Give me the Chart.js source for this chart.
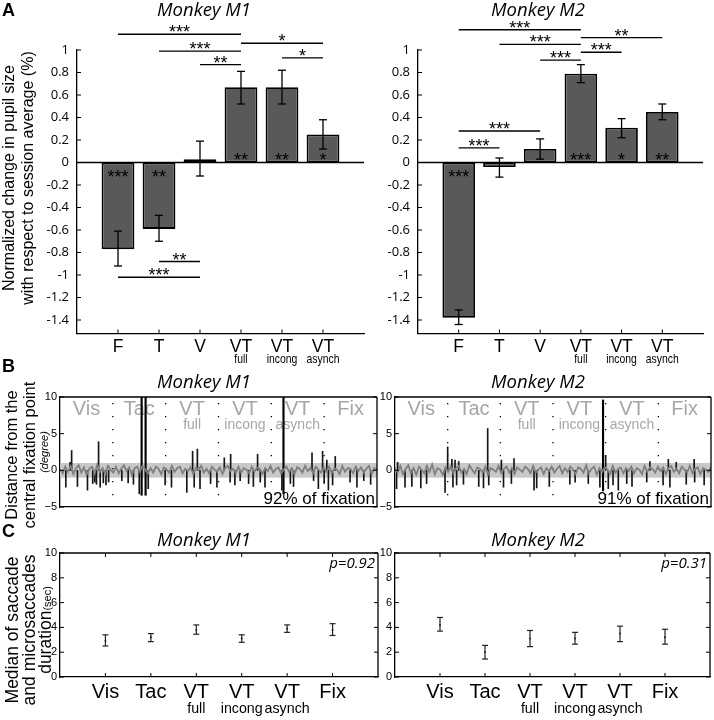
<!DOCTYPE html>
<html>
<head>
<meta charset="utf-8">
<title>Pupil size, gaze and saccade duration</title>
<script src="https://cdn.jsdelivr.net/npm/chart.js@4.4.1/dist/chart.umd.min.js"></script>
<style>
  html, body { margin: 0; padding: 0; background: #fff; }
  #page { position: relative; width: 714px; height: 720px; overflow: hidden; }
  #page canvas { position: absolute; left: 0; top: 0; }
</style>
</head>
<body>
<div id="page">
  <canvas id="pupilM1" width="714" height="720"></canvas>
  <canvas id="pupilM2" width="714" height="720"></canvas>
  <canvas id="gazeM1" width="714" height="720"></canvas>
  <canvas id="gazeM2" width="714" height="720"></canvas>
  <canvas id="durM1" width="714" height="720"></canvas>
  <canvas id="durM2" width="714" height="720"></canvas>
</div>
<script>
// ---------- panel A : pupil size ----------
const condA = ['F', 'T', 'V', 'VT', 'VT', 'VT'];
const subA = ['', '', '', 'full', 'incong', 'asynch'];
const tickA = [-1.4, -1.2, -1, -0.8, -0.6, -0.4, -0.2, 0, 0.2, 0.4, 0.6, 0.8, 1];
const tickALabels = ['-1.4', '-1.2', '-1', '-0.8', '-0.6', '-0.4', '-0.2', '0', '0.2', '0.4', '0.6', '0.8', '1'];

const pupilM1 = [-0.77, -0.59, 0.03, 0.67, 0.67, 0.25];
const pupilM1Hi = [-0.61, -0.47, 0.19, 0.81, 0.82, 0.38];
const pupilM1Lo = [-0.92, -0.70, -0.12, 0.52, 0.52, 0.12];
const starsM1 = ['***', '**', '', '**', '**', '*'];
const sigM1From = [0, 1, 2, 3, 4, 1, 0];
const sigM1To = [3, 3, 3, 5, 5, 2, 2];
const sigM1Y = [1.14, 0.99, 0.87, 1.06, 0.93, -0.88, -1.02];
const sigM1Txt = ['***', '***', '**', '*', '*', '**', '***'];

const pupilM2 = [-1.38, -0.04, 0.12, 0.79, 0.31, 0.45];
const pupilM2Hi = [-1.31, 0.04, 0.21, 0.87, 0.39, 0.52];
const pupilM2Lo = [-1.44, -0.13, 0.03, 0.71, 0.22, 0.38];
const starsM2 = ['***', '', '', '***', '*', '**'];
const sigM2From = [0, 1, 2, 3, 3, 0, 0];
const sigM2To = [3, 3, 3, 5, 4, 2, 1];
const sigM2Y = [1.18, 1.05, 0.91, 1.11, 0.98, 0.28, 0.13];
const sigM2Txt = ['***', '***', '***', '**', '***', '***', '***'];

// ---------- panel B : distance from fixation point ----------
const segB = ['Vis', 'Tac', 'VT', 'VT', 'VT', 'Fix'];
const segBSub = ['', '', 'full', 'incong', 'asynch', ''];
const tickB = [-5, 0, 5, 10];
const tickBLabels = ['\u22125', '0', '5', '10'];

const traceM1 = [0.2, -0.4, 0.5, -0.2, 0.6, -0.5, 0.3, 0.7, -0.3, 0.4,
  -0.6, 0.2, 0.5, -0.4, 0.8, -0.2, 0.3, -0.5, 0.6, 0.1,
  -0.3, 0.5, -0.4, 0.2, 0.7, -0.1, 0.4, -0.6, 0.3, 0.5,
  -0.2, 0.6, 0.1, -0.4, 0.3, -0.3, 0.5, 0.2, -0.5, 0.4,
  0.1, -0.3, 0.6, -0.2, 0.3, 0.5, -0.4, 0.2, -0.1, 0.4,
  -0.5, 0.3, 0.1, 0.6, -0.3, 0.2, -0.4, 0.5, 0.1, -0.2,
  0.4, -0.5, 0.3, 0.6, -0.1, 0.2, -0.4, 0.5, -0.3, 0.3,
  0.1, -0.4, 0.5, -0.2, 0.4, 0.2, -0.5, 0.3, -0.1, 0.6,
  -0.3, 0.2, 0.4, -0.4, 0.1, 0.5, -0.2, 0.3, -0.5, 0.4,
  0.2, -0.3, 0.6, -0.1, 0.3, -0.4, 0.5, 0.1, -0.3, 0.4,
  -0.2, 0.5, -0.4, 0.3, 0.1, -0.5, 0.6, -0.2, 0.3, 0.2,
  -0.4, 0.5, -0.1, 0.4, -0.3, 0.2, 0.6, -0.5, 0.3, 0.1];
const spikeM1X = [0.11, 0.19, 0.22, 0.33, 0.52, 0.62, 0.66, 0.69, 0.73, 0.76, 0.82, 0.87, 0.92,
  1.17, 1.29, 1.39, 1.50, 1.67, 1.99, 2.11, 2.40, 2.51, 2.54, 2.60, 2.65, 2.85, 2.97,
  3.11, 3.22, 3.23, 3.31, 3.41, 3.57, 3.66, 3.74, 3.79, 3.88, 4.20, 4.36, 4.42,
  4.77, 4.80, 4.89, 4.97, 5.00, 5.05, 5.08, 5.16, 5.21, 5.49, 5.62, 5.75, 5.88];
const spikeM1Y = [-2.3, 1.1, 2.7, -2.2, -2.7, -1.8, -1.6, -1.9, 3.9, -2.3, -1.7, -2.0, -1.6,
  -1.4, -1.7, -1.9, -3.2, -2.5, -2.0, -2.3, -3.0, 2.6, -2.3, 2.9, -2.5, -1.8, -2.3,
  1.7, -1.6, 2.2, -2.0, -1.4, -1.8, -2.2, 2.2, -1.6, -2.3, -2.7, -1.8, -2.2,
  2.4, -1.4, -2.5, 2.6, -1.8, 1.4, -2.7, -2.0, 1.9, -1.6, -2.3, -1.4, -1.9];
const tallM1X = [1.545, 1.62, 4.23];
const tallM1Lo = [-3.4, -3.4, -3.2];
const tallM1Hi = [10, 10, 10];

const traceM2 = [0.4, -0.3, 0.6, -0.5, 0.2, 0.7, -0.4, 0.3, -0.6, 0.5,
  0.1, -0.4, 0.6, -0.2, 0.8, -0.5, 0.3, 0.1, -0.6, 0.4,
  -0.2, 0.5, -0.4, 0.3, 0.6, -0.3, 0.2, -0.5, 0.7, 0.1,
  -0.4, 0.4, 0.2, -0.3, 0.5, -0.6, 0.3, 0.1, -0.2, 0.6,
  -0.4, 0.2, 0.5, -0.3, 0.3, -0.5, 0.4, 0.1, -0.2, 0.5,
  0.2, -0.4, 0.6, -0.3, 0.1, 0.4, -0.5, 0.3, -0.1, 0.5,
  -0.3, 0.2, 0.6, -0.4, 0.3, -0.2, 0.5, 0.1, -0.5, 0.4,
  0.2, -0.3, 0.7, -0.4, 0.2, 0.5, -0.6, 0.3, -0.2, 0.4,
  0.1, -0.5, 0.6, -0.3, 0.2, 0.4, -0.4, 0.3, -0.1, 0.5,
  -0.4, 0.3, 0.1, -0.5, 0.6, -0.2, 0.4, 0.2, -0.3, 0.5,
  -0.1, 0.4, -0.5, 0.3, 0.6, -0.2, 0.2, -0.4, 0.5, 0.1,
  -0.3, 0.6, -0.4, 0.2, 0.4, -0.5, 0.3, 0.1, -0.2, 0.4];
const spikeM2X = [0.03, 0.05, 0.19, 0.32, 0.49, 0.60, 0.95, 1.00, 1.08, 1.10, 1.14, 1.17, 1.21, 1.30,
  1.59, 1.68, 1.76, 1.78, 2.02, 2.06, 2.21, 2.26, 2.64, 2.69, 2.93, 3.32, 3.42, 3.67,
  3.89, 4.00, 4.05, 4.14, 4.24, 4.40, 4.50, 4.78, 4.84, 5.09, 5.19, 5.22, 5.34, 5.53, 5.68, 5.69, 5.87];
const spikeM2Y = [-2.5, 1.1, -2.3, -2.2, -2.4, -1.8, -3.0, 3.2, 1.5, -2.3, 1.4, -2.0, 1.2, -1.9,
  -2.2, -2.4, 5.7, -2.0, 1.4, -2.3, -1.8, 1.6, -2.7, -2.4, -2.2, -1.9, -1.6, -1.8,
  -2.3, 2.0, -2.5, -2.0, -2.7, -1.8, -2.2, -1.6, 1.2, -2.0, 1.5, -2.3, 1.1, -1.9, 1.5, -1.6, -2.0];
const tallM2X = [3.95];
const tallM2Lo = [-2.8];
const tallM2Hi = [9.6];

// ---------- panel C : saccade duration ----------
const condC = ['Vis', 'Tac', 'VT', 'VT', 'VT', 'Fix'];
const subC = ['', '', 'full', 'incong', 'asynch', ''];
const tickC = [0, 2, 4, 6, 8, 10];
const tickCLabels = ['0', '2', '4', '6', '8', '10'];
const durM1 = [2.9, 3.2, 3.8, 3.1, 3.9, 3.8];
const durM1Hi = [3.4, 3.5, 4.2, 3.4, 4.2, 4.3];
const durM1Lo = [2.5, 2.85, 3.45, 2.8, 3.6, 3.35];
const durM2 = [4.2, 2.0, 3.1, 3.1, 3.5, 3.2];
const durM2Hi = [4.8, 2.55, 3.75, 3.6, 4.1, 3.85];
const durM2Lo = [3.7, 1.45, 2.45, 2.65, 2.85, 2.65];

const SANS = '"Liberation Sans", Arial, Helvetica, sans-serif';
const HUM = '"Open Sans", "Noto Sans", sans-serif';

function line(ctx, x1, y1, x2, y2) {
  ctx.beginPath(); ctx.moveTo(x1, y1); ctx.lineTo(x2, y2); ctx.stroke();
}

function txt(ctx, s, x, y, font, o) {
  o = o || {};
  ctx.save();
  ctx.font = font;
  ctx.fillStyle = o.color || '#000';
  ctx.textAlign = o.align || 'center';
  ctx.textBaseline = o.base || 'middle';
  ctx.translate(x, y);
  if (o.rot) ctx.rotate(o.rot);
  if (o.sx) ctx.scale(o.sx, 1);
  ctx.fillText(s, 0, 0);
  ctx.restore();
}

function stars(ctx, s, cx, cy) {
  txt(ctx, s, cx, cy + 10, '18px ' + SANS, {base: 'alphabetic'});
}

function baseOpts(left, top, right, bottom, yw) {
  return {
    responsive: false,
    animation: false,
    events: [],
    layout: {padding: {left: left - yw, top: top, right: 714 - right, bottom: 720 - bottom}},
    plugins: {legend: {display: false}, tooltip: {enabled: false}, title: {display: false}}
  };
}

function yScale(min, max, vals, labels, yw, pad, font) {
  return {
    min: min, max: max,
    grid: {display: false, drawTicks: false},
    border: {display: true, color: '#000', width: 1.3},
    afterBuildTicks: s => { s.ticks = vals.map(v => ({value: v})); },
    afterFit: s => { s.width = yw; },
    ticks: {padding: pad, color: '#000', font: font, callback: (v, i) => labels[i]}
  };
}

function xScale(min, max) {
  return {
    type: 'linear', min: min, max: max, offset: false,
    grid: {display: false, drawTicks: false},
    border: {display: true, color: '#000', width: 1.3},
    ticks: {display: false},
    afterFit: s => { s.height = 0; }
  };
}

// ---------- A ----------
function pupilChart(id, o) {
  const cfg = baseOpts(o.left, 50, o.right, 333.5, 45);
  cfg.scales = {
    x: xScale(-1, 6),
    y: yScale(-1.52, 1, tickA, tickALabels, 45, 8, {family: 'Open Sans', size: 13})
  };
  new Chart(document.getElementById(id), {
    type: 'bar',
    data: {datasets: [{
      data: o.vals.map((v, i) => ({x: i, y: v})),
      backgroundColor: '#595959', borderColor: '#000', borderWidth: 1.8, borderSkipped: false,
      barPercentage: 0.8, categoryPercentage: 1
    }]},
    options: cfg,
    plugins: [{
      id: 'pupilDeco',
      afterDraw(chart) {
        const {ctx, chartArea: a, scales: {x, y}} = chart;
        const y0 = y.getPixelForValue(0);
        ctx.save();
        ctx.strokeStyle = '#000';
        ctx.lineWidth = 1.5;
        line(ctx, a.left, y0, a.right, y0);
        ctx.lineWidth = 1;
        tickA.forEach(v => { const py = y.getPixelForValue(v); line(ctx, a.left, py, a.left + 4, py); });
        o.vals.forEach((v, i) => { const px = x.getPixelForValue(i); line(ctx, px, a.bottom, px, a.bottom - 4); });
        // error bars
        ctx.lineWidth = 1.3;
        o.vals.forEach((v, i) => {
          const px = x.getPixelForValue(i);
          const ph = y.getPixelForValue(o.hi[i]), pl = y.getPixelForValue(o.lo[i]);
          line(ctx, px, ph, px, pl);
          line(ctx, px - 4, ph, px + 4, ph);
          line(ctx, px - 4, pl, px + 4, pl);
        });
        // significance inside bars
        o.stars.forEach((s, i) => {
          if (!s) return;
          stars(ctx, s, x.getPixelForValue(i), o.vals[i] < 0 ? y0 + 10 : y0 - 7);
        });
        // pairwise comparisons
        o.from.forEach((f, k) => {
          const x1 = x.getPixelForValue(f), x2 = x.getPixelForValue(o.to[k]);
          const py = y.getPixelForValue(o.lev[k]);
          ctx.lineWidth = 1.3;
          line(ctx, x1, py, x2, py);
          stars(ctx, o.txt[k], (x1 + x2) / 2, py - 6);
        });
        ctx.restore();
        condA.forEach((c, i) => {
          const px = x.getPixelForValue(i);
          txt(ctx, c, px, 347, '17.5px ' + SANS);
          if (subA[i]) txt(ctx, subA[i], px, 359, '13px ' + SANS, {sx: 0.8});
        });
        txt(ctx, o.title, o.titleX, 11, 'italic 18.5px ' + HUM);
        if (o.first) {
          txt(ctx, 'A', 2, 11, 'bold 18px ' + SANS, {align: 'left'});
          txt(ctx, 'Normalized change in pupil size', 10, 178, '16px ' + SANS, {rot: -Math.PI / 2});
          txt(ctx, 'with respect to session average (%)', 29, 178, '16px ' + SANS, {rot: -Math.PI / 2});
        }
      }
    }]
  });
}

// ---------- B ----------
function gazeChart(id, o) {
  const cfg = baseOpts(o.left, 397, o.right, 507, 30);
  cfg.scales = {
    x: xScale(0, 6),
    y: yScale(-5, 10, tickB, tickBLabels, 30, 3, {family: 'Liberation Sans', size: 11})
  };
  const n = o.trace.length;
  new Chart(document.getElementById(id), {
    type: 'bar',
    data: {datasets: [
      {type: 'line', data: o.trace.map((v, i) => ({x: i * 6 / (n - 1), y: v})),
        borderColor: '#7f7f7f', borderWidth: 1.8, pointRadius: 0, order: 0},
      {data: o.spX.map((v, i) => ({x: v, y: o.spY[i]})),
        backgroundColor: '#151515', borderWidth: 0, barThickness: 1, grouped: false, order: 1},
      {data: o.tallX.map((v, i) => ({x: v, y: [o.tallLo[i], o.tallHi[i]]})),
        backgroundColor: '#000', borderWidth: 0, barThickness: 1.5, grouped: false, order: 1}
    ]},
    options: cfg,
    plugins: [{
      id: 'gazeDeco',
      beforeDatasetsDraw(chart) {
        const {ctx, chartArea: a, scales: {x, y}} = chart;
        ctx.save();
        ctx.fillStyle = '#c8c8c8';
        const b1 = y.getPixelForValue(1), b2 = y.getPixelForValue(-1);
        ctx.fillRect(a.left, b1, a.right - a.left, b2 - b1);
        ctx.strokeStyle = '#000';
        ctx.lineWidth = 1.3;
        ctx.setLineDash([1.3, 11.7]);
        for (let k = 1; k < 6; k++) {
          const px = x.getPixelForValue(k);
          line(ctx, px, a.top + 6, px, a.bottom);
        }
        ctx.restore();
        segB.forEach((s, i) => {
          const px = x.getPixelForValue(i + 0.5);
          txt(ctx, s, px, 409, '20px ' + SANS, {color: '#a6a6a6'});
          if (segBSub[i]) txt(ctx, segBSub[i], px, 425, '14px ' + SANS, {color: '#a6a6a6'});
        });
      },
      afterDraw(chart) {
        const {ctx, chartArea: a, scales: {y}} = chart;
        ctx.save();
        ctx.strokeStyle = '#000';
        ctx.lineWidth = 1.3;
        line(ctx, a.left, a.top, a.right, a.top);
        line(ctx, a.right, a.top, a.right, a.bottom);
        ctx.lineWidth = 1;
        tickB.forEach(v => {
          const py = y.getPixelForValue(v);
          line(ctx, a.left, py, a.left + 4, py);
          line(ctx, a.right, py, a.right - 4, py);
        });
        ctx.restore();
        txt(ctx, o.pct, a.right - 2, 499, '17px ' + SANS, {align: 'right'});
        txt(ctx, o.title, o.titleX, 383, 'italic 18.5px ' + HUM);
        if (o.first) {
          txt(ctx, 'B', 2, 367, 'bold 18px ' + SANS, {align: 'left'});
          txt(ctx, 'Distance from the', 12, 455, '16.5px ' + SANS, {rot: -Math.PI / 2});
          txt(ctx, 'central fixation point', 30, 455, '16.5px ' + SANS, {rot: -Math.PI / 2});
          txt(ctx, '(degree)', 45, 452, 'italic 11px ' + SANS, {rot: -Math.PI / 2});
        }
      }
    }]
  });
}

// ---------- C ----------
function durChart(id, o) {
  const cfg = baseOpts(o.left, 553, o.right, 677, 30);
  cfg.scales = {
    x: xScale(0, 7),
    y: yScale(0, 10, tickC, tickCLabels, 30, 3, {family: 'Liberation Sans', size: 11})
  };
  new Chart(document.getElementById(id), {
    type: 'scatter',
    data: {datasets: [{
      data: o.vals.map((v, i) => ({x: i + 1, y: v})),
      pointRadius: 1, backgroundColor: '#222', borderColor: '#222', borderWidth: 0
    }]},
    options: cfg,
    plugins: [{
      id: 'durDeco',
      afterDraw(chart) {
        const {ctx, chartArea: a, scales: {x, y}} = chart;
        ctx.save();
        ctx.strokeStyle = '#000';
        ctx.lineWidth = 1.3;
        line(ctx, a.left, a.top, a.right, a.top);
        line(ctx, a.right, a.top, a.right, a.bottom);
        ctx.lineWidth = 1;
        tickC.forEach(v => {
          const py = y.getPixelForValue(v);
          line(ctx, a.left, py, a.left + 4, py);
          line(ctx, a.right, py, a.right - 4, py);
        });
        o.vals.forEach((v, i) => {
          const px = x.getPixelForValue(i + 1);
          line(ctx, px, a.bottom, px, a.bottom - 4);
          line(ctx, px, a.top, px, a.top + 4);
        });
        ctx.strokeStyle = '#222';
        ctx.lineWidth = 1.2;
        o.vals.forEach((v, i) => {
          const px = x.getPixelForValue(i + 1);
          const ph = y.getPixelForValue(o.hi[i]), pl = y.getPixelForValue(o.lo[i]);
          line(ctx, px, ph, px, pl);
          line(ctx, px - 3, ph, px + 3, ph);
          line(ctx, px - 3, pl, px + 3, pl);
        });
        ctx.restore();
        condC.forEach((c, i) => {
          const px = x.getPixelForValue(i + 1);
          txt(ctx, c, px, 692, '20px ' + SANS);
          if (subC[i]) txt(ctx, subC[i], px, 709, '15px ' + SANS, {sx: 0.95});
        });
        txt(ctx, o.p, a.right - 3, 564, 'italic 15px ' + HUM, {align: 'right'});
        txt(ctx, o.title, o.titleX, 541, 'italic 18.5px ' + HUM);
        if (o.first) {
          txt(ctx, 'C', 2, 532, 'bold 18px ' + SANS, {align: 'left'});
          txt(ctx, 'Median of saccade', 13, 630, '17.5px ' + SANS, {rot: -Math.PI / 2});
          txt(ctx, 'and microsaccades', 30, 630, '17.5px ' + SANS, {rot: -Math.PI / 2});
          // "duration" with small "(sec)" on the same baseline
          ctx.save();
          ctx.font = '17.5px ' + SANS;
          const w1 = ctx.measureText('duration').width;
          ctx.font = '11px ' + SANS;
          const w2 = ctx.measureText('(sec)').width;
          ctx.restore();
          const start = 630 + (w1 + w2) / 2;
          txt(ctx, 'duration', 51, start, '17.5px ' + SANS, {rot: -Math.PI / 2, align: 'left', base: 'alphabetic'});
          txt(ctx, '(sec)', 51, start - w1, '11px ' + SANS, {rot: -Math.PI / 2, align: 'left', base: 'alphabetic'});
        }
      }
    }]
  });
}

pupilChart('pupilM1', {left: 77, right: 364, vals: pupilM1, hi: pupilM1Hi, lo: pupilM1Lo, stars: starsM1,
  from: sigM1From, to: sigM1To, lev: sigM1Y, txt: sigM1Txt, title: 'Monkey M1', titleX: 204, first: true});
pupilChart('pupilM2', {left: 418, right: 703, vals: pupilM2, hi: pupilM2Hi, lo: pupilM2Lo, stars: starsM2,
  from: sigM2From, to: sigM2To, lev: sigM2Y, txt: sigM2Txt, title: 'Monkey M2', titleX: 538});

gazeChart('gazeM1', {left: 60, right: 377, trace: traceM1, spX: spikeM1X, spY: spikeM1Y,
  tallX: tallM1X, tallLo: tallM1Lo, tallHi: tallM1Hi, pct: '92% of fixation', title: 'Monkey M1', titleX: 204, first: true});
gazeChart('gazeM2', {left: 395, right: 711, trace: traceM2, spX: spikeM2X, spY: spikeM2Y,
  tallX: tallM2X, tallLo: tallM2Lo, tallHi: tallM2Hi, pct: '91% of fixation', title: 'Monkey M2', titleX: 538});

durChart('durM1', {left: 60, right: 378, vals: durM1, hi: durM1Hi, lo: durM1Lo, p: 'p=0.92', title: 'Monkey M1', titleX: 204, first: true});
durChart('durM2', {left: 395, right: 712, vals: durM2, hi: durM2Hi, lo: durM2Lo, p: 'p=0.31', title: 'Monkey M2', titleX: 538});
</script>
</body>
</html>
